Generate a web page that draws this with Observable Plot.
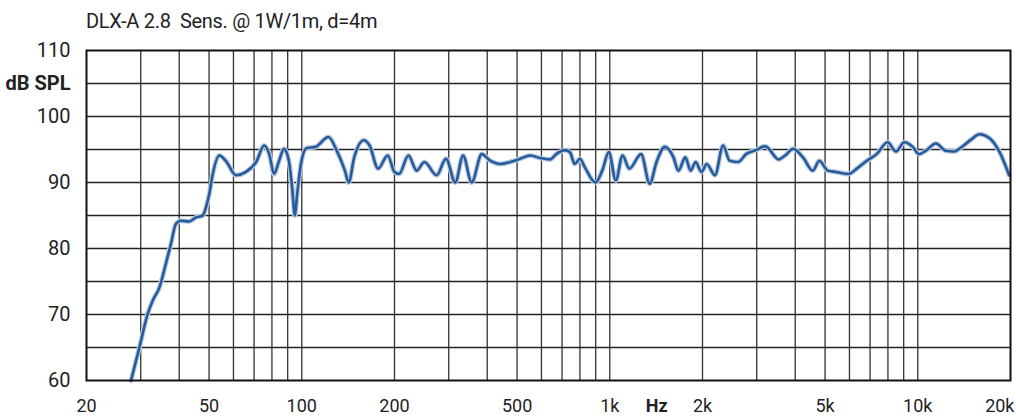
<!DOCTYPE html>
<html>
<head>
<meta charset="utf-8">
<script src="https://cdn.jsdelivr.net/npm/d3@7"></script>
<script src="https://cdn.jsdelivr.net/npm/@observablehq/plot@0.6"></script>
<style>
  html, body { margin: 0; padding: 0; background: #fff; }
  #wrap { position: relative; width: 1016px; height: 417px; font-family: Roboto, "Liberation Sans", sans-serif; }
  #title { position: absolute; left: 86px; top: 11px; font-size: 20px; color: #222; white-space: pre; line-height: 1; letter-spacing: -0.3px; }
  #chart { position: absolute; left: 0; top: 36px; }
</style>
</head>
<body>
<div id="wrap">
  <div id="title">DLX-A 2.8  Sens. @ 1W/1m, d=4m</div>
  <div id="chart"></div>
</div>
<script>
const freq = [27.9, 29.7, 31.6, 32.8, 34.5, 36.2, 37.6, 39.0, 40.5, 43.1, 45.3, 47.7, 48.9, 50.1, 51.3, 54.0, 56.6, 61.2, 65.9, 71.1, 75.5, 78.4, 81.3, 84.4, 87.5, 90.8, 93, 95, 96.4, 99.4, 103.5, 111, 122, 130, 138, 142, 148, 159, 166, 177, 190, 200, 207, 222, 236, 250, 274, 294, 315, 334, 356, 384, 409, 441, 475, 512, 552, 594, 640, 670, 715, 742, 770, 800, 830, 898, 945, 993, 1046, 1100, 1157, 1264, 1348, 1418, 1510, 1610, 1670, 1760, 1830, 1900, 1985, 2064, 2195, 2333, 2450, 2610, 2770, 2980, 3200, 3535, 3710, 3940, 4240, 4560, 4790, 5100, 5420, 5970, 6340, 6830, 7350, 7980, 8500, 9040, 9630, 10100, 10600, 11450, 12330, 13130, 13990, 14900, 15860, 17100, 18440, 19800];
const spl = [60.0, 65.0, 70.1, 72.1, 74.1, 77.7, 80.7, 83.7, 84.2, 84.1, 84.7, 85.0, 86.3, 88.3, 91.1, 94.1, 93.3, 91.1, 91.6, 93.1, 95.6, 94.3, 91.3, 93.3, 95.1, 93.3, 89.3, 85.0, 87.8, 92.8, 95.2, 95.4, 96.9, 94.8, 91.8, 90.0, 93.8, 96.4, 95.6, 92.1, 94.1, 91.6, 91.3, 94.1, 91.8, 93.1, 91.1, 93.6, 90.0, 94.1, 90.0, 94.3, 93.3, 92.8, 93.1, 93.6, 94.1, 93.7, 93.5, 94.3, 94.9, 94.6, 92.8, 93.6, 92.3, 90.0, 91.8, 94.6, 90.3, 94.1, 92.1, 94.3, 89.8, 93.1, 95.4, 93.8, 91.8, 93.8, 91.8, 93.1, 91.6, 92.8, 91.1, 95.6, 93.3, 93.1, 94.3, 94.9, 95.5, 93.5, 94.1, 95.1, 93.8, 91.8, 93.3, 91.8, 91.6, 91.3, 92.1, 93.3, 94.3, 96.1, 94.7, 96.1, 95.4, 94.3, 94.8, 95.9, 94.8, 94.7, 95.5, 96.5, 97.3, 96.7, 94.6, 91.1];

const xGrid = [30, 40, 50, 60, 70, 80, 90, 100, 200, 300, 400, 500, 600, 700, 800, 900, 1000, 2000, 3000, 4000, 5000, 6000, 7000, 8000, 9000, 10000];
const yGrid = [65, 70, 75, 80, 85, 90, 95, 100, 105];
const xTicks = [20, 50, 100, 200, 500, 1000, 2000, 5000, 10000, 20000];
const xTickLabels = ["20", "50", "100", "200", "500", "1k", "2k", "5k", "10k", "20k"];
const yTicks = [60, 70, 80, 90, 100, 110];
const yTickLabels = ["60", "70", "80", "90", "100", "110"];

const data = freq.map((f, i) => ({f, db: spl[i]}));
const xLab = xTicks.map((v, i) => ({v, t: xTickLabels[i]}));
const yLab = yTicks.map((v, i) => ({v, t: yTickLabels[i]}));

const chart = Plot.plot({
  width: 1016,
  height: 381,
  marginTop: 14,
  marginLeft: 86,
  marginRight: 6,
  marginBottom: 37,
  style: {fontFamily: 'Roboto, "Liberation Sans", sans-serif', fontSize: "20px", color: "#222", background: "#fff"},
  x: {type: "log", domain: [20, 20000], label: null, axis: null},
  y: {domain: [60, 110], label: null, axis: null},
  marks: [
    Plot.ruleX(xGrid, {stroke: "#333", strokeWidth: 1.3}),
    Plot.ruleY(yGrid, {stroke: "#222", strokeWidth: 1.3}),
    Plot.line(data, {x: "f", y: "db", stroke: "#bccbe1", strokeWidth: 5, curve: "monotone-x"}),
    Plot.line(data, {x: "f", y: "db", stroke: "#255a9b", strokeWidth: 2.6, curve: "monotone-x"}),
    Plot.frame({stroke: "#111", strokeWidth: 2}),
    Plot.text(xLab, {filter: d => d.v < 20000, x: "v", y: () => 60, text: "t", dy: 26, fontSize: 18, fill: "#222"}),
    Plot.text(xLab, {filter: d => d.v >= 20000, x: "v", y: () => 60, text: "t", dy: 26, dx: 4, textAnchor: "end", fontSize: 18, fill: "#222"}),
    Plot.text(yLab, {x: () => 20, y: "v", text: "t", dx: -16, textAnchor: "end", fontSize: 20, fill: "#222"}),
    Plot.text(["dB SPL"], {x: 20, y: 105, text: d => d, dx: -16, textAnchor: "end", fontWeight: "bold", fontSize: 20, fill: "#222"}),
    Plot.text(["Hz"], {x: 1420, y: 60, text: d => d, dy: 26, fontWeight: "bold", fontSize: 18, fill: "#222"})
  ]
});
document.getElementById("chart").appendChild(chart);
</script>
</body>
</html>
